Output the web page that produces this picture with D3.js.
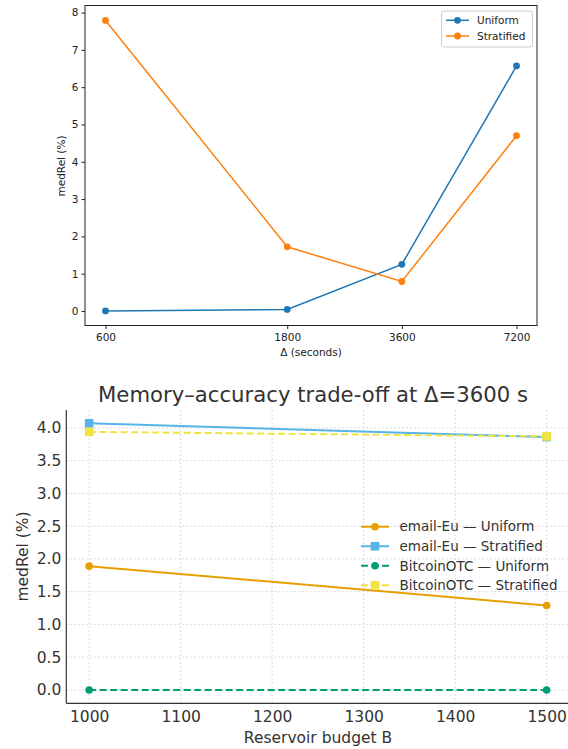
<!DOCTYPE html>
<html>
<head>
<meta charset="utf-8">
<script src="https://cdn.jsdelivr.net/npm/d3@7"></script>
<style>
  body { margin: 0; background: #fff; }
  svg { font-family: "DejaVu Sans", sans-serif; }
</style>
</head>
<body>
<div id="chart"></div>
<script>
// top panel data
var deltas = [600, 1800, 3600, 7200];
var uniformVals = [0.0, 0.04, 1.25, 6.57];
var stratifiedVals = [7.79, 1.72, 0.79, 4.70];
var topYTicks = [0, 1, 2, 3, 4, 5, 6, 7, 8];

// bottom panel data
var budgets = [1000, 1500];
var emailUniform = [1.89, 1.29];
var emailStratified = [4.07, 3.86];
var btcUniform = [0.0, 0.0];
var btcStratified = [3.94, 3.87];
var botXTicks = [1000, 1100, 1200, 1300, 1400, 1500];
var botYTicks = [0, 0.5, 1, 1.5, 2, 2.5, 3, 3.5, 4];

var svg = d3.select("#chart").append("svg")
  .attr("width", 568).attr("height", 749);

// ---------- top panel ----------
var x1 = d3.scaleLog().domain([530, 8150]).range([85, 537]);
var y1 = d3.scaleLinear().domain([-0.39, 8.19]).range([325.5, 5.5]);

var topG = svg.append("g");

topG.append("rect")
  .attr("x", 85).attr("y", 5.5).attr("width", 452).attr("height", 320)
  .attr("fill", "none").attr("stroke", "#222").attr("stroke-width", 1);

var xAx1 = topG.append("g").attr("transform", "translate(0,325.5)")
  .call(d3.axisBottom(x1).tickValues(deltas).tickFormat(d3.format("d")).tickSizeOuter(0).tickSize(3.5));
var yAx1 = topG.append("g").attr("transform", "translate(85,0)")
  .call(d3.axisLeft(y1).tickValues(topYTicks).tickFormat(d3.format("d")).tickSizeOuter(0).tickSize(3.5));
[xAx1, yAx1].forEach(function (a) {
  a.select(".domain").remove();
  a.selectAll("text").attr("font-size", 10.5).attr("fill", "#222").style("font-family", "DejaVu Sans");
  a.selectAll("line").attr("stroke", "#222");
});
xAx1.selectAll("text").attr("dy", "0.9em");

topG.append("text").attr("x", 311).attr("y", 356).attr("text-anchor", "middle")
  .attr("font-size", 10.5).attr("fill", "#222").text("Δ (seconds)");
topG.append("text").attr("transform", "translate(65,166) rotate(-90)")
  .attr("text-anchor", "middle").attr("font-size", 10.5).attr("fill", "#222").text("medRel (%)");

var topSeries = [
  { name: "Uniform", vals: uniformVals, color: "#1f77b4" },
  { name: "Stratified", vals: stratifiedVals, color: "#ff7f0e" }
];
var line1 = d3.line().x(function (d) { return x1(d[0]); }).y(function (d) { return y1(d[1]); });
topSeries.forEach(function (s) {
  var pts = deltas.map(function (d, i) { return [d, s.vals[i]]; });
  topG.append("path").datum(pts).attr("d", line1)
    .attr("fill", "none").attr("stroke", s.color).attr("stroke-width", 1.5);
  topG.selectAll(null).data(pts).enter().append("circle")
    .attr("cx", function (d) { return x1(d[0]); })
    .attr("cy", function (d) { return y1(d[1]); })
    .attr("r", 3.4).attr("fill", s.color);
});

// legend top
var lg1 = topG.append("g");
lg1.append("rect").attr("x", 441.5).attr("y", 11).attr("width", 91).attr("height", 36)
  .attr("rx", 2.5).attr("fill", "#fff").attr("fill-opacity", 0.8)
  .attr("stroke", "#ccc").attr("stroke-width", 1);
topSeries.forEach(function (s, i) {
  var yy = 20.3 + i * 15.7;
  lg1.append("line").attr("x1", 446).attr("x2", 469).attr("y1", yy).attr("y2", yy)
    .attr("stroke", s.color).attr("stroke-width", 1.5);
  lg1.append("circle").attr("cx", 457.5).attr("cy", yy).attr("r", 3.4).attr("fill", s.color);
  lg1.append("text").attr("x", 477).attr("y", yy).attr("dy", "0.35em")
    .attr("font-size", 10.5).attr("fill", "#222").text(s.name);
});

// ---------- bottom panel ----------
var x2 = d3.scaleLinear().domain([975, 1525]).range([66.3, 569.5]);
var y2 = d3.scaleLinear().domain([-0.2035, 4.2735]).range([703.3, 410]);
var bot = svg.append("g");

// grid
bot.append("g").selectAll("line").data(botXTicks).enter().append("line")
  .attr("x1", function (d) { return x2(d); }).attr("x2", function (d) { return x2(d); })
  .attr("y1", 410).attr("y2", 703.3)
  .attr("stroke", "#cfcfcf").attr("stroke-width", 0.8).attr("stroke-dasharray", "2,2");
bot.append("g").selectAll("line").data(botYTicks).enter().append("line")
  .attr("x1", 66.3).attr("x2", 569.5)
  .attr("y1", function (d) { return y2(d); }).attr("y2", function (d) { return y2(d); })
  .attr("stroke", "#cfcfcf").attr("stroke-width", 0.8).attr("stroke-dasharray", "2,2");

var xAx2 = bot.append("g").attr("transform", "translate(0,703.3)")
  .call(d3.axisBottom(x2).tickValues(botXTicks).tickFormat(d3.format("d")).tickSize(0).tickPadding(8));
var yAx2 = bot.append("g").attr("transform", "translate(66.3,0)")
  .call(d3.axisLeft(y2).tickValues(botYTicks).tickFormat(d3.format(".1f")).tickSize(0).tickPadding(5));
[xAx2, yAx2].forEach(function (a) {
  a.select(".domain").remove();
  a.selectAll("text").attr("font-size", 15.5).attr("fill", "#333").style("font-family", "DejaVu Sans");
});

// spines
bot.append("line").attr("x1", 66.3).attr("x2", 66.3).attr("y1", 410).attr("y2", 703.3)
  .attr("stroke", "#333").attr("stroke-width", 1.2);
bot.append("line").attr("x1", 66.3).attr("x2", 569.5).attr("y1", 703.3).attr("y2", 703.3)
  .attr("stroke", "#333").attr("stroke-width", 1.2);

bot.append("text").attr("x", 313).attr("y", 402.3).attr("text-anchor", "middle")
  .attr("font-size", 21.2).attr("fill", "#333").text("Memory–accuracy trade-off at Δ=3600 s");
bot.append("text").attr("x", 318).attr("y", 743).attr("text-anchor", "middle")
  .attr("font-size", 15.5).attr("fill", "#333").text("Reservoir budget B");
bot.append("text").attr("transform", "translate(28,556.5) rotate(-90)")
  .attr("text-anchor", "middle").attr("font-size", 15.5).attr("fill", "#333").text("medRel (%)");

var botSeries = [
  { name: "email-Eu — Uniform", vals: emailUniform, color: "#E69F00", marker: "circle", dash: null },
  { name: "email-Eu — Stratified", vals: emailStratified, color: "#56B4E9", marker: "square", dash: null },
  { name: "BitcoinOTC — Uniform", vals: btcUniform, color: "#009E73", marker: "circle", dash: "7,3.5" },
  { name: "BitcoinOTC — Stratified", vals: btcStratified, color: "#F0E442", marker: "square", dash: "7,3.5" }
];

function drawMarker(g, kind, cx, cy, color) {
  if (kind === "circle") {
    g.append("circle").attr("cx", cx).attr("cy", cy).attr("r", 3.8).attr("fill", color);
  } else {
    g.append("rect").attr("x", cx - 4.3).attr("y", cy - 4.3).attr("width", 8.6).attr("height", 8.6).attr("fill", color);
  }
}

var line2 = d3.line().x(function (d) { return x2(d[0]); }).y(function (d) { return y2(d[1]); });
botSeries.forEach(function (s) {
  var pts = budgets.map(function (b, i) { return [b, s.vals[i]]; });
  var p = bot.append("path").datum(pts).attr("d", line2)
    .attr("fill", "none").attr("stroke", s.color).attr("stroke-width", 2);
  if (s.dash) p.attr("stroke-dasharray", s.dash);
  pts.forEach(function (d) { drawMarker(bot, s.marker, x2(d[0]), y2(d[1]), s.color); });
});

// legend bottom
var lg2 = bot.append("g");
botSeries.forEach(function (s, i) {
  var yy = 526.7 + i * 19.55;
  var ln = lg2.append("line").attr("x1", 361).attr("x2", 389).attr("y1", yy).attr("y2", yy)
    .attr("stroke", s.color).attr("stroke-width", 2);
  if (s.dash) ln.attr("stroke-dasharray", "7,3.5");
  drawMarker(lg2, s.marker, 375, yy, s.color);
  lg2.append("text").attr("x", 399.5).attr("y", yy).attr("dy", "0.35em")
    .attr("font-size", 13.5).attr("fill", "#333").text(s.name);
});
</script>
</body>
</html>
